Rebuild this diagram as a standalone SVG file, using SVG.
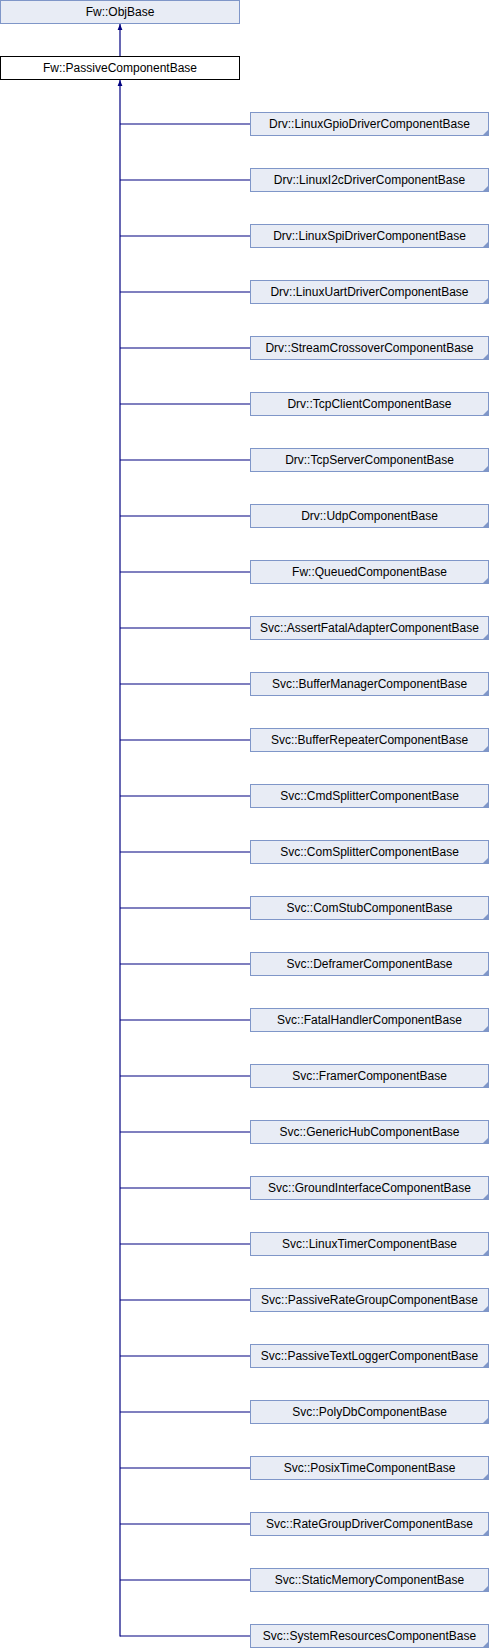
<svg xmlns="http://www.w3.org/2000/svg" width="490" height="1648" viewBox="0 0 490 1648">
<defs>
<style>
.n rect{fill:#e8ecf5;stroke:#7f96c8;stroke-width:1}
.n polygon{fill:#7f96c8}
.p rect{fill:#ffffff;stroke:#000000;stroke-width:1}
text{font-family:"Liberation Sans",Arial,sans-serif;font-size:12px;fill:#000000;text-anchor:middle}
.c line{stroke:#000080;stroke-width:1.2}
</style>
<marker id="ah" viewBox="0 0 10 10" refX="10" refY="5" markerWidth="6" markerHeight="6" orient="auto" markerUnits="userSpaceOnUse">
<path d="M0,1 L10,5 L0,9 Z" fill="#000080"/>
</marker>
</defs>
<rect width="490" height="1648" fill="#ffffff"/>
<g id="connectors" class="c">
<line x1="120" y1="56.5" x2="120" y2="24" marker-end="url(#ah)"/>
<line x1="120" y1="1636.5" x2="120" y2="80" marker-end="url(#ah)"/>
<line x1="120" y1="124" x2="250.5" y2="124"/>
<line x1="120" y1="180" x2="250.5" y2="180"/>
<line x1="120" y1="236" x2="250.5" y2="236"/>
<line x1="120" y1="292" x2="250.5" y2="292"/>
<line x1="120" y1="348" x2="250.5" y2="348"/>
<line x1="120" y1="404" x2="250.5" y2="404"/>
<line x1="120" y1="460" x2="250.5" y2="460"/>
<line x1="120" y1="516" x2="250.5" y2="516"/>
<line x1="120" y1="572" x2="250.5" y2="572"/>
<line x1="120" y1="628" x2="250.5" y2="628"/>
<line x1="120" y1="684" x2="250.5" y2="684"/>
<line x1="120" y1="740" x2="250.5" y2="740"/>
<line x1="120" y1="796" x2="250.5" y2="796"/>
<line x1="120" y1="852" x2="250.5" y2="852"/>
<line x1="120" y1="908" x2="250.5" y2="908"/>
<line x1="120" y1="964" x2="250.5" y2="964"/>
<line x1="120" y1="1020" x2="250.5" y2="1020"/>
<line x1="120" y1="1076" x2="250.5" y2="1076"/>
<line x1="120" y1="1132" x2="250.5" y2="1132"/>
<line x1="120" y1="1188" x2="250.5" y2="1188"/>
<line x1="120" y1="1244" x2="250.5" y2="1244"/>
<line x1="120" y1="1300" x2="250.5" y2="1300"/>
<line x1="120" y1="1356" x2="250.5" y2="1356"/>
<line x1="120" y1="1412" x2="250.5" y2="1412"/>
<line x1="120" y1="1468" x2="250.5" y2="1468"/>
<line x1="120" y1="1524" x2="250.5" y2="1524"/>
<line x1="120" y1="1580" x2="250.5" y2="1580"/>
<line x1="120" y1="1636" x2="250.5" y2="1636"/>
</g>
<g id="objbase" class="n"><rect x="0.5" y="0.5" width="239" height="23"/><text x="120" y="16">Fw::ObjBase</text></g>
<g id="passive" class="p"><rect x="0.5" y="56.5" width="239" height="23"/><text x="120" y="72">Fw::PassiveComponentBase</text></g>
<g id="c1" class="n"><rect x="250.5" y="112.5" width="238" height="23"/><polygon points="488.5,129.5 488.5,135.5 482.5,135.5"/><text x="369.5" y="127.5">Drv::LinuxGpioDriverComponentBase</text></g>
<g id="c2" class="n"><rect x="250.5" y="168.5" width="238" height="23"/><polygon points="488.5,185.5 488.5,191.5 482.5,191.5"/><text x="369.5" y="183.5">Drv::LinuxI2cDriverComponentBase</text></g>
<g id="c3" class="n"><rect x="250.5" y="224.5" width="238" height="23"/><polygon points="488.5,241.5 488.5,247.5 482.5,247.5"/><text x="369.5" y="239.5">Drv::LinuxSpiDriverComponentBase</text></g>
<g id="c4" class="n"><rect x="250.5" y="280.5" width="238" height="23"/><polygon points="488.5,297.5 488.5,303.5 482.5,303.5"/><text x="369.5" y="295.5">Drv::LinuxUartDriverComponentBase</text></g>
<g id="c5" class="n"><rect x="250.5" y="336.5" width="238" height="23"/><polygon points="488.5,353.5 488.5,359.5 482.5,359.5"/><text x="369.5" y="351.5">Drv::StreamCrossoverComponentBase</text></g>
<g id="c6" class="n"><rect x="250.5" y="392.5" width="238" height="23"/><polygon points="488.5,409.5 488.5,415.5 482.5,415.5"/><text x="369.5" y="407.5">Drv::TcpClientComponentBase</text></g>
<g id="c7" class="n"><rect x="250.5" y="448.5" width="238" height="23"/><polygon points="488.5,465.5 488.5,471.5 482.5,471.5"/><text x="369.5" y="463.5">Drv::TcpServerComponentBase</text></g>
<g id="c8" class="n"><rect x="250.5" y="504.5" width="238" height="23"/><polygon points="488.5,521.5 488.5,527.5 482.5,527.5"/><text x="369.5" y="519.5">Drv::UdpComponentBase</text></g>
<g id="c9" class="n"><rect x="250.5" y="560.5" width="238" height="23"/><polygon points="488.5,577.5 488.5,583.5 482.5,583.5"/><text x="369.5" y="575.5">Fw::QueuedComponentBase</text></g>
<g id="c10" class="n"><rect x="250.5" y="616.5" width="238" height="23"/><polygon points="488.5,633.5 488.5,639.5 482.5,639.5"/><text x="369.5" y="631.5">Svc::AssertFatalAdapterComponentBase</text></g>
<g id="c11" class="n"><rect x="250.5" y="672.5" width="238" height="23"/><polygon points="488.5,689.5 488.5,695.5 482.5,695.5"/><text x="369.5" y="687.5">Svc::BufferManagerComponentBase</text></g>
<g id="c12" class="n"><rect x="250.5" y="728.5" width="238" height="23"/><polygon points="488.5,745.5 488.5,751.5 482.5,751.5"/><text x="369.5" y="743.5">Svc::BufferRepeaterComponentBase</text></g>
<g id="c13" class="n"><rect x="250.5" y="784.5" width="238" height="23"/><polygon points="488.5,801.5 488.5,807.5 482.5,807.5"/><text x="369.5" y="799.5">Svc::CmdSplitterComponentBase</text></g>
<g id="c14" class="n"><rect x="250.5" y="840.5" width="238" height="23"/><polygon points="488.5,857.5 488.5,863.5 482.5,863.5"/><text x="369.5" y="855.5">Svc::ComSplitterComponentBase</text></g>
<g id="c15" class="n"><rect x="250.5" y="896.5" width="238" height="23"/><polygon points="488.5,913.5 488.5,919.5 482.5,919.5"/><text x="369.5" y="911.5">Svc::ComStubComponentBase</text></g>
<g id="c16" class="n"><rect x="250.5" y="952.5" width="238" height="23"/><polygon points="488.5,969.5 488.5,975.5 482.5,975.5"/><text x="369.5" y="967.5">Svc::DeframerComponentBase</text></g>
<g id="c17" class="n"><rect x="250.5" y="1008.5" width="238" height="23"/><polygon points="488.5,1025.5 488.5,1031.5 482.5,1031.5"/><text x="369.5" y="1023.5">Svc::FatalHandlerComponentBase</text></g>
<g id="c18" class="n"><rect x="250.5" y="1064.5" width="238" height="23"/><polygon points="488.5,1081.5 488.5,1087.5 482.5,1087.5"/><text x="369.5" y="1079.5">Svc::FramerComponentBase</text></g>
<g id="c19" class="n"><rect x="250.5" y="1120.5" width="238" height="23"/><polygon points="488.5,1137.5 488.5,1143.5 482.5,1143.5"/><text x="369.5" y="1135.5">Svc::GenericHubComponentBase</text></g>
<g id="c20" class="n"><rect x="250.5" y="1176.5" width="238" height="23"/><polygon points="488.5,1193.5 488.5,1199.5 482.5,1199.5"/><text x="369.5" y="1191.5">Svc::GroundInterfaceComponentBase</text></g>
<g id="c21" class="n"><rect x="250.5" y="1232.5" width="238" height="23"/><polygon points="488.5,1249.5 488.5,1255.5 482.5,1255.5"/><text x="369.5" y="1247.5">Svc::LinuxTimerComponentBase</text></g>
<g id="c22" class="n"><rect x="250.5" y="1288.5" width="238" height="23"/><polygon points="488.5,1305.5 488.5,1311.5 482.5,1311.5"/><text x="369.5" y="1303.5">Svc::PassiveRateGroupComponentBase</text></g>
<g id="c23" class="n"><rect x="250.5" y="1344.5" width="238" height="23"/><polygon points="488.5,1361.5 488.5,1367.5 482.5,1367.5"/><text x="369.5" y="1359.5">Svc::PassiveTextLoggerComponentBase</text></g>
<g id="c24" class="n"><rect x="250.5" y="1400.5" width="238" height="23"/><polygon points="488.5,1417.5 488.5,1423.5 482.5,1423.5"/><text x="369.5" y="1415.5">Svc::PolyDbComponentBase</text></g>
<g id="c25" class="n"><rect x="250.5" y="1456.5" width="238" height="23"/><polygon points="488.5,1473.5 488.5,1479.5 482.5,1479.5"/><text x="369.5" y="1471.5">Svc::PosixTimeComponentBase</text></g>
<g id="c26" class="n"><rect x="250.5" y="1512.5" width="238" height="23"/><polygon points="488.5,1529.5 488.5,1535.5 482.5,1535.5"/><text x="369.5" y="1527.5">Svc::RateGroupDriverComponentBase</text></g>
<g id="c27" class="n"><rect x="250.5" y="1568.5" width="238" height="23"/><polygon points="488.5,1585.5 488.5,1591.5 482.5,1591.5"/><text x="369.5" y="1583.5">Svc::StaticMemoryComponentBase</text></g>
<g id="c28" class="n"><rect x="250.5" y="1624.5" width="238" height="23"/><polygon points="488.5,1641.5 488.5,1647.5 482.5,1647.5"/><text x="369.5" y="1639.5">Svc::SystemResourcesComponentBase</text></g>
</svg>
